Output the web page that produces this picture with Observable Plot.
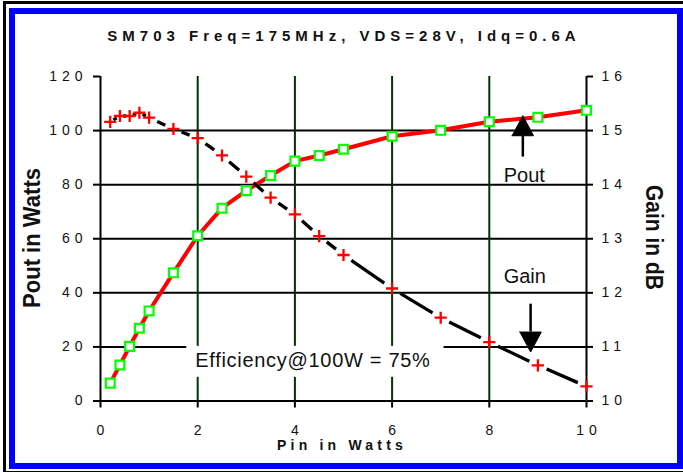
<!DOCTYPE html>
<html><head><meta charset="utf-8">
<script src="https://cdn.jsdelivr.net/npm/d3@7"></script>
<script src="https://cdn.jsdelivr.net/npm/@observablehq/plot@0.6"></script>
<style>
html,body{margin:0;padding:0;background:#fff;}
svg{display:block;}
g[aria-label$="tick label"] text{letter-spacing:5px;}
</style></head><body>
<div id="chart"></div>
<script>
// ---- data ----
const title = "SM703 Freq=175MHz, VDS=28V, Idq=0.6A";
const xLabel = "Pin in Watts";
const yLabel = "Pout in Watts";
const y2Label = "Gain in dB";
const pin  = [0.2, 0.4, 0.6, 0.8, 1.0, 1.5, 2.0, 2.5, 3.0, 3.5, 4.0, 4.5, 5.0, 6.0, 7.0, 8.0, 9.0, 10.0];
const pout = [6.6, 13.3, 20.2, 26.9, 33.3, 47.4, 61.1, 71.3, 77.8, 83.4, 88.7, 90.8, 93.1, 97.9, 100.1, 103.3, 104.9, 107.5];
const gainDb = [15.16, 15.27, 15.27, 15.33, 15.24, 15.03, 14.86, 14.54, 14.15, 13.76, 13.45, 13.05, 12.70, 12.08, 11.54, 11.09, 10.66, 10.27];
const xTicks = [0, 2, 4, 6, 8, 10];
const yTicks = [0, 20, 40, 60, 80, 100, 120];
const gainTicks = [10, 11, 12, 13, 14, 15, 16];
const xGrid = [2, 4, 6, 8];
const yGrid = [20, 40, 60, 80, 100];
const noteText = ["Pout", "Gain"];
const noteX = [8.72, 8.73];
const noteY = [83.5, 45.9];
const effText = "Efficiency@100W = 75%";
const effX = [1.95];
const effY = [15.0];
// arrows: shaft x, shaft start/end (Pout scale), head base & tip
const arrowX = [8.69, 8.85];
const arrowShaftFrom = [90.2, 35.8];
const arrowBase = [98.1, 25.5];
const arrowTip = [105.5, 18.1];
const arrowHalfWidth = 0.22;

// ---- derived tables ----
const y0 = yTicks[0], y1 = yTicks[yTicks.length - 1];
const g0 = gainTicks[0], g1 = gainTicks[gainTicks.length - 1];
const gainToY = g => y0 + (g - g0) * (y1 - y0) / (g1 - g0);
const yToGain = y => g0 + (y - y0) * (g1 - g0) / (y1 - y0);
const poutRows = pin.map((x, i) => ({x, y: pout[i]}));
const gainRows = pin.map((x, i) => ({x, y: gainToY(gainDb[i])}));
const gainSegs = gainRows.slice(1).map((d, i) => ({x1: gainRows[i].x, y1: gainRows[i].y, x2: d.x, y2: d.y}));
const notes = noteText.map((t, i) => ({text: t, x: noteX[i], y: noteY[i]}));
const eff = [{text: effText, x: effX[0], y: effY[0]}];
const shafts = arrowX.map((x, i) => ({x, y1: arrowShaftFrom[i], y2: arrowBase[i]}));
const heads = arrowX.flatMap((x, i) => [
  {k: i, x: x - arrowHalfWidth, y: arrowBase[i]},
  {k: i, x: x + arrowHalfWidth, y: arrowBase[i]},
  {k: i, x: x, y: arrowTip[i]},
  {k: i, x: x - arrowHalfWidth, y: arrowBase[i]}
]);

const font = "'Liberation Sans', Arial, Helvetica, sans-serif";

const svg = Plot.plot({
  width: 683,
  height: 472,
  marginLeft: 100,
  marginRight: 97,
  marginTop: 76,
  marginBottom: 71.5,
  style: {fontFamily: font, fontSize: "14px", background: "white", color: "#111"},
  x: {domain: [xTicks[0], xTicks[xTicks.length - 1]]},
  y: {domain: [y0, y1]},
  marks: [
    Plot.gridY(yGrid, {stroke: "black", strokeOpacity: 1, strokeWidth: 2}),
    Plot.gridX(xGrid, {stroke: "#003300", strokeOpacity: 1, strokeWidth: 2}),
    Plot.text(eff, {x: "x", y: "y", text: "text", textAnchor: "start", fontSize: 20, fill: "#111"}),
    Plot.text(notes, {x: "x", y: "y", text: "text", fontSize: 20, fill: "#111"}),
    Plot.ruleX([xTicks[0], xTicks[xTicks.length - 1]], {stroke: "black", strokeWidth: 2}),
    Plot.ruleY([y0], {stroke: "black", strokeWidth: 2}),
    Plot.axisX(xTicks, {tickSize: 7, tickPadding: 17.5, fontSize: 14, label: null, stroke: "black", strokeWidth: 2}),
    Plot.axisY(yTicks, {anchor: "left", tickSize: 7, tickPadding: 6, fontSize: 14, label: null, stroke: "black", strokeWidth: 2}),
    Plot.axisY(gainTicks.map(gainToY), {anchor: "right", tickSize: 6, tickPadding: 9, fontSize: 14, label: null, stroke: "black", strokeWidth: 2, tickFormat: d => String(Math.round(yToGain(d)))}),
    Plot.line(poutRows, {x: "x", y: "y", stroke: "#ff0000", strokeWidth: 4}),
    Plot.link(gainSegs, {x1: "x1", y1: "y1", x2: "x2", y2: "y2", stroke: "black", strokeWidth: 3.3}),
    Plot.dot(poutRows, {x: "x", y: "y", symbol: "square", r: 5, fill: "white", stroke: "#00ff00", strokeWidth: 2.2}),
    Plot.dot(gainRows, {x: "x", y: "y", symbol: "plus", r: 4, fill: "none", stroke: "#ff0000", strokeWidth: 2.3}),
    Plot.ruleX(shafts, {x: "x", y1: "y1", y2: "y2", stroke: "black", strokeWidth: 2.5}),
    Plot.line(heads, {x: "x", y: "y", z: "k", fill: "black", stroke: "black", strokeWidth: 1})
  ]
});
document.getElementById("chart").append(svg);

const s = d3.select(svg);
// trim dashes at segment ends (gaps around markers)
s.selectAll('g[aria-label="link"] path').each(function () {
  const L = this.getTotalLength();
  const t = Math.min(9.5, L / 3);
  d3.select(this).attr("stroke-dasharray", `0,${t},${Math.max(0, L - 2 * t)},${t}`).attr("stroke-linecap", "butt");
});
// bottom tick labels: compensate trailing letter spacing
s.selectAll('g[aria-label="x-axis tick label"] text').attr("dx", 2.5);
s.selectAll('g[aria-label="y-axis tick label"] text').attr("dx", function () {
  return d3.select(this).attr("text-anchor") === "end" ? 5 : 0;
});
// efficiency label: white box behind
s.selectAll("text").filter(function () { return this.textContent === effText; })
  .style("letter-spacing", "0.7px").each(function () {
  const bb = this.getBBox();
  const r = d3.select(this.parentNode).insert("rect", "text")
    .attr("x", bb.x - 9).attr("y", bb.y - 3)
    .attr("width", bb.width + 22).attr("height", bb.height + 9)
    .attr("fill", "white");
  const tr = this.getAttribute("transform");
  if (tr) r.attr("transform", tr);
});

// frame decorations
s.append("rect").attr("x", 4.5).attr("y", 2.5).attr("width", 700).attr("height", 470)
  .attr("fill", "none").attr("stroke", "black").attr("stroke-width", 3);
s.append("rect").attr("x", 12).attr("y", 11).attr("width", 668).attr("height", 455)
  .attr("fill", "none").attr("stroke", "#0000ff").attr("stroke-width", 6);

// titles
s.append("text").text(title).attr("x", 344).attr("y", 41).attr("text-anchor", "middle")
  .attr("font-family", font).attr("font-weight", "bold").attr("font-size", 15)
  .style("letter-spacing", "5px").attr("fill", "#111");
s.append("text").text(xLabel).attr("x", 342).attr("y", 450).attr("text-anchor", "middle")
  .attr("font-family", font).attr("font-weight", "bold").attr("font-size", 14)
  .style("letter-spacing", "4.2px").attr("fill", "#111");
s.append("text").text(yLabel).attr("transform", "translate(40,238) rotate(-90)").attr("text-anchor", "middle")
  .attr("font-family", font).attr("font-weight", "bold").attr("font-size", 23)
  .attr("textLength", 140).attr("lengthAdjust", "spacingAndGlyphs").attr("fill", "#111");
s.append("text").text(y2Label).attr("transform", "translate(646,237.5) rotate(90)").attr("text-anchor", "middle")
  .attr("font-family", font).attr("font-weight", "bold").attr("font-size", 23)
  .attr("textLength", 105).attr("lengthAdjust", "spacingAndGlyphs").attr("fill", "#111");
</script>
</body></html>
